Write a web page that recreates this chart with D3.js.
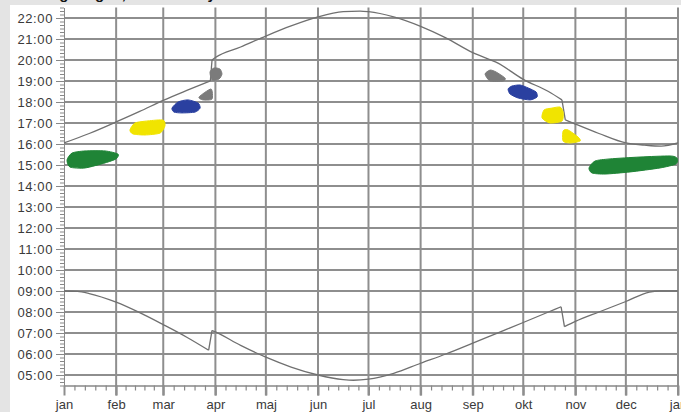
<!DOCTYPE html>
<html><head><meta charset="utf-8">
<script src="https://cdn.jsdelivr.net/npm/d3@7/dist/d3.min.js"></script>
<style>
html,body{margin:0;padding:0;background:#e4e4e4;overflow:hidden}
svg{display:block}
</style></head>
<body>
<svg id="c" width="681" height="412"></svg>
<script>
// ---- data ----
const monthStarts = [0,31,59,90,120,151,181,212,243,273,304,334,365];
const monthLabels = ["jan","feb","mar","apr","maj","jun","jul","aug","sep","okt","nov","dec","jan"];
const hourTicks = [5,6,7,8,9,10,11,12,13,14,15,16,17,18,19,20,21,22];
const titleText = "Daglængde, Danmark by";

// sunset [dayOfYear, hour]
const sunset = [[0,16.05],[15,16.5],[31,17.05],[45,17.55],[59,18.08],[73,18.55],[87,19.0],[88,20.0],
  [90,20.12],[105,20.62],[120,21.14],[135,21.62],[151,22.05],[166,22.3],[176,22.33],[181,22.3],
  [196,22.05],[212,21.6],[227,21.05],[243,20.35],[258,19.85],[273,19.08],[288,18.5],[296,18.1],
  [298,17.15],[304,16.95],[318,16.5],[334,16.05],[345,15.95],[355,15.9],[365,16.05]];
// sunrise [dayOfYear, hour]
const sunrise = [[0,9.0],[8,8.98],[15,8.88],[31,8.47],[45,7.97],[59,7.4],[73,6.8],[86,6.18],[88,7.12],
  [90,7.05],[105,6.41],[120,5.85],[135,5.38],[151,5.0],[166,4.78],[172,4.75],[181,4.8],[196,5.08],
  [212,5.56],[227,6.0],[243,6.52],[258,7.01],[273,7.5],[288,8.0],[295.5,8.25],[297.5,7.3],[304,7.55],
  [318,8.0],[334,8.5],[348,8.95],[354,9.0],[365,9.0]];

// coloured marks: outlines as [dayOfYear, hour]
const greenJanOutline = [[1.8,15.24],[4.8,15.57],[12.5,15.67],[24.4,15.67],[32.1,15.52],[30.9,15.29],[24.4,15.1],[12.5,14.86],[3.6,14.9]];
const yellowFebOutline = [[39.2,16.67],[42.2,17.0],[49.9,17.1],[58.9,17.14],[60.0,16.86],[57.1,16.52],[48.2,16.43],[41.0,16.48]];
const blueMarOutline = [[64.2,17.71],[67.8,18.0],[73.7,18.1],[79.7,17.95],[80.9,17.71],[77.9,17.52],[70.2,17.48],[65.4,17.52]];
const greyMarOutline = [[80.3,18.24],[87.4,18.62],[88.0,18.14],[82.6,18.1]];
const greyAprOutline = [[86.8,19.43],[89.2,19.62],[92.7,19.57],[93.9,19.33],[92.2,19.1],[88.0,19.05]];
const greySepOutline = [[250.3,19.33],[253.3,19.52],[256.8,19.43],[262.2,19.14],[261.0,19.0],[253.3,19.0]];
const blueOctOutline = [[264.0,18.62],[266.3,18.76],[271.1,18.81],[275.9,18.67],[280.6,18.48],[281.2,18.24],[277.1,18.1],[270.0,18.19],[265.2,18.38]];
const yellowOctOutline = [[284.2,17.24],[285.4,17.62],[290.1,17.71],[294.9,17.76],[296.7,17.52],[296.1,17.1],[288.9,17.0]];
const yellowNovOutline = [[296.7,16.62],[299.6,16.67],[305.6,16.33],[306.8,16.14],[300.8,16.05],[296.7,16.14]];
const greenDecOutline = [[312.1,14.86],[315.7,15.19],[324.6,15.29],[342.4,15.38],[360.3,15.43],[364.4,15.33],[363.8,15.05],[354.3,14.86],[336.5,14.67],[321.6,14.57],[313.9,14.62]];

const marks = [
  {pts: greenJanOutline, color: "#1f8436"},
  {pts: yellowFebOutline, color: "#f1e400"},
  {pts: blueMarOutline, color: "#2a40a0"},
  {pts: greyMarOutline, color: "#7b7b7b"},
  {pts: greyAprOutline, color: "#7b7b7b"},
  {pts: greySepOutline, color: "#7b7b7b"},
  {pts: blueOctOutline, color: "#2a40a0"},
  {pts: yellowOctOutline, color: "#f1e400"},
  {pts: yellowNovOutline, color: "#f1e400"},
  {pts: greenDecOutline, color: "#1f8436"}
];

// ---- layout ----
const svg = d3.select("#c");
const pLeft = 64, pRight = 678, pTop = 7.5, pBottom = 385.5;
const x = d3.scaleLinear().domain([0,365]).range([pLeft,pRight]);
const y = d3.scaleLinear().domain([4.5,22.5]).range([pBottom,pTop]);
const gridColor = "#8e8e8e";
const font = "'Liberation Sans', Arial, sans-serif";

// white panel
svg.append("rect").attr("x",10).attr("y",5).attr("width",671).attr("height",407).attr("fill","#fff");
// cut-off title
svg.append("text").attr("x",40).attr("y",-1).attr("font-family",font).attr("font-weight","bold")
  .attr("font-size",15).attr("fill","#111").text(titleText);

// horizontal grid
svg.append("g").selectAll("line").data(hourTicks).join("line")
  .attr("x1",pLeft).attr("x2",pRight).attr("y1",d=>y(d)).attr("y2",d=>y(d))
  .attr("stroke",gridColor).attr("stroke-width",2);
// vertical grid (month starts), extending below the axis as major ticks
svg.append("g").selectAll("line").data(monthStarts.slice(1)).join("line")
  .attr("x1",d=>x(d)).attr("x2",d=>x(d)).attr("y1",pTop).attr("y2",pBottom+10)
  .attr("stroke",gridColor).attr("stroke-width",2);

// y axis: major + minor ticks
const minorHours = d3.range(4.5, 22.5001, 1/6);
const yMinor = svg.append("g").attr("transform",`translate(${pLeft},0)`)
  .call(d3.axisLeft(y).tickValues(minorHours).tickSize(4).tickFormat("").tickSizeOuter(0));
const yAxis = svg.append("g").attr("transform",`translate(${pLeft},0)`)
  .call(d3.axisLeft(y).tickValues(hourTicks).tickSize(8).tickPadding(3)
    .tickFormat(h => (h<10?"0":"")+h+":00").tickSizeOuter(0));
[yMinor,yAxis].forEach(g=>{
  g.selectAll("path,line").attr("stroke","#888").attr("stroke-width",1);
});
yAxis.selectAll("text").attr("font-family",font).attr("font-size",13).attr("fill","#3a3a3a")
  .attr("letter-spacing",0.6);

// x axis minor ticks
const minorDays = [];
for (let i=0;i<12;i++){ const s=monthStarts[i], e=monthStarts[i+1]; for(let k=1;k<5;k++) minorDays.push(s+(e-s)*k/5); }
const xMinor = svg.append("g").attr("transform",`translate(0,${pBottom})`)
  .call(d3.axisBottom(x).tickValues(minorDays).tickSize(5).tickFormat("").tickSizeOuter(0));
xMinor.selectAll("path,line").attr("stroke","#888").attr("stroke-width",1.2);
const xAxis = svg.append("g").attr("transform",`translate(0,${pBottom})`)
  .call(d3.axisBottom(x).tickValues(monthStarts).tickSize(10).tickPadding(4)
    .tickFormat((d,i)=>monthLabels[i]).tickSizeOuter(0));
xAxis.select("path").attr("stroke","#888").attr("stroke-width",1.2);
xAxis.selectAll("line").attr("stroke",gridColor).attr("stroke-width",2);
xAxis.selectAll("text").attr("font-family",font).attr("font-size",13).attr("fill","#3a3a3a");

// curves: smooth pieces, with sharp clock-change jumps between them
const curveLine = d3.line().x(d=>x(d[0])).y(d=>y(d[1])).curve(d3.curveMonotoneX);
const straight = d3.line().x(d=>x(d[0])).y(d=>y(d[1]));
function splitAtJumps(s){
  const pieces=[[s[0]]], jumps=[];
  for(let i=1;i<s.length;i++){
    if (s[i][0]-s[i-1][0] <= 2 && Math.abs(s[i][1]-s[i-1][1]) >= 0.8){
      jumps.push([s[i-1], s[i]]); pieces.push([s[i]]);
    } else pieces[pieces.length-1].push(s[i]);
  }
  return {pieces, jumps};
}
const curveG = svg.append("g").attr("fill","none").attr("stroke","#707070").attr("stroke-width",1.3)
  .attr("stroke-linejoin","round");
[sunset, sunrise].forEach(s=>{
  const {pieces, jumps} = splitAtJumps(s);
  pieces.forEach(p => curveG.append("path").attr("d", curveLine(p)));
  jumps.forEach(j => curveG.append("path").attr("d", straight(j)));
});

// coloured marks
const blob = d3.line().x(d=>x(d[0])).y(d=>y(d[1])).curve(d3.curveCardinalClosed.tension(0.3));
svg.append("g").selectAll("path").data(marks).join("path")
  .attr("d",d=>blob(d.pts)).attr("fill",d=>d.color).attr("stroke",d=>d.color).attr("stroke-width",1);
</script>
</body></html>
